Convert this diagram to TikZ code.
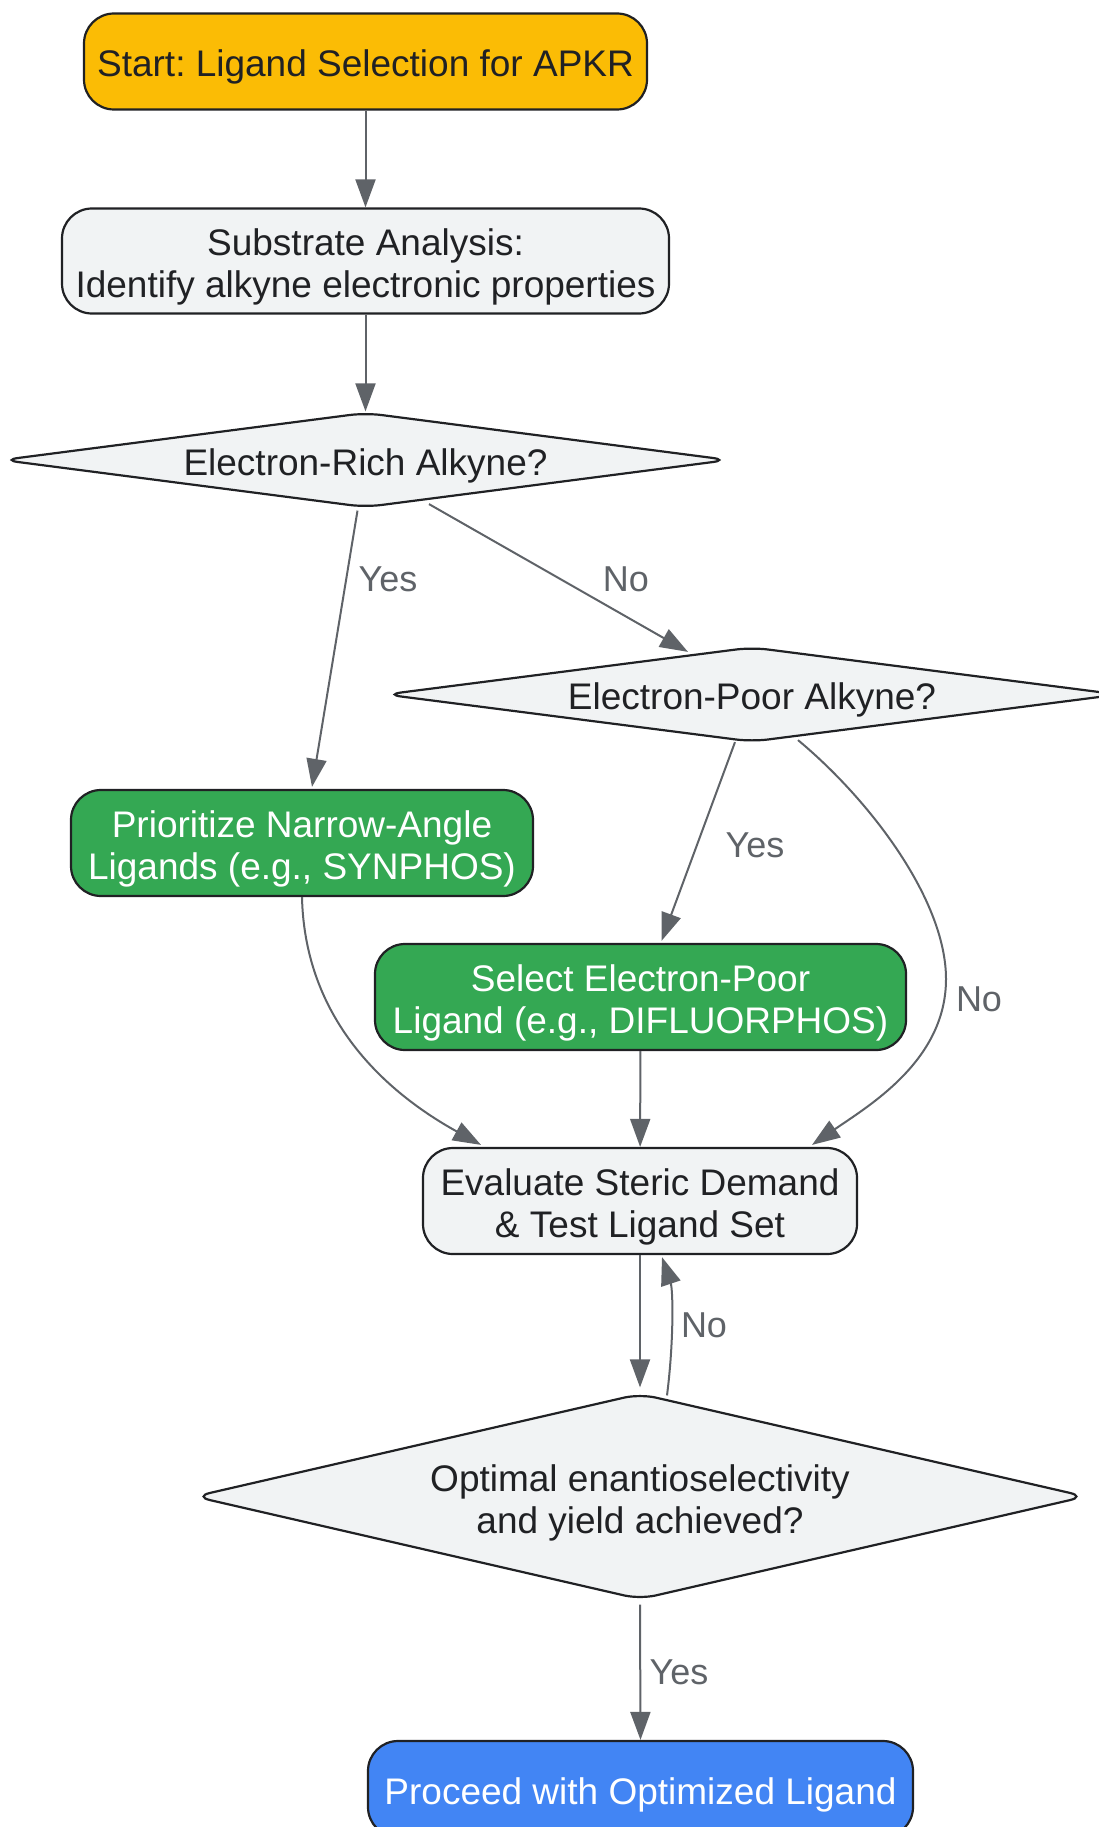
\documentclass[tikz,border=0pt]{standalone}
\usepackage{fontspec}
\setmainfont{Liberation Sans}
\usetikzlibrary{shapes.geometric,arrows.meta,calc}
\definecolor{cYellow}{HTML}{FBBC05}
\definecolor{cGray}{HTML}{F1F3F4}
\definecolor{cGreen}{HTML}{34A853}
\definecolor{cBlue}{HTML}{4285F4}
\definecolor{cBorder}{HTML}{202124}
\definecolor{cText}{HTML}{202124}
\definecolor{cEdge}{HTML}{5F6368}
\newcommand{\myStrut}{\rule[-4pt]{0pt}{42pt}}
\newcommand{\tS}{\rule{0pt}{39pt}}
\newcommand{\bS}{\rule[-8pt]{0pt}{8pt}}
\frenchspacing
\begin{document}
\begin{tikzpicture}[x=1pt,y=-1pt,
  box/.style={draw=cBorder, line width=2.2pt, rounded corners=30pt, align=center,
    font=\fontsize{37}{42}\selectfont, text=cText, inner sep=0pt,
    execute at begin node={\myStrut}, execute at end node={\myStrut}},
  two/.style={execute at begin node={}, execute at end node={}},
  dia/.style={diamond, draw=cBorder, line width=2.2pt, rounded corners=16pt, fill=cGray,
    align=center, inner sep=0pt, text=cText, font=\fontsize{37}{42}\selectfont,
    execute at begin node={\myStrut}, execute at end node={\myStrut}},
  edge/.style={draw=cEdge, line width=2pt, -{Triangle[length=28pt,width=20pt]}},
  lbl/.style={text=cEdge, font=\fontsize{36}{42}\selectfont, inner sep=0pt}
]
\useasboundingbox (0,0) rectangle (1099,1827);

\node[box, fill=cYellow, minimum width=563pt, minimum height=96pt] (start) at (365.5,61.5) {Start: Ligand Selection for APKR};
\node[box, two, fill=cGray, minimum width=607pt, minimum height=105pt] (sub) at (365.5,261) {\tS Substrate Analysis:\\Identify alkyne electronic properties\bS};
\node[dia, minimum width=727pt, minimum height=95pt, aspect=7.6] (d1) at (365.5,460) {Electron-Rich Alkyne?};
\node[dia, minimum width=734pt, minimum height=95pt, aspect=7.6] (d2) at (752,694.5) {Electron-Poor Alkyne?};
\node[box, two, fill=cGreen, text=white, minimum width=462pt, minimum height=106pt] (prio) at (302,843) {\tS Prioritize Narrow-Angle\\Ligands (e.g., SYNPHOS)\bS};
\node[box, two, fill=cGreen, text=white, minimum width=531pt, minimum height=106pt] (sel) at (640.5,997) {\tS Select Electron-Poor\\Ligand (e.g., DIFLUORPHOS)\bS};
\node[box, two, fill=cGray, minimum width=434pt, minimum height=106pt] (eval) at (640,1201) {\tS Evaluate Steric Demand\\\& Test Ligand Set\bS};
\node[dia, two, minimum width=892pt, minimum height=206pt, aspect=4.3] (d3) at (640,1496.5) {\tS Optimal enantioselectivity\\and yield achieved?\bS};
\node[box, fill=cBlue, text=white, minimum width=545pt, minimum height=96pt] (proc) at (640.5,1789) {Proceed with Optimized Ligand};

\draw[edge] (start) -- (sub);
\draw[edge] (sub) -- (d1);
\draw[edge] ($(d1.south)+(-8,2)$) -- ($(prio.north)+(10,-2)$);
\draw[edge] ($(d1.south)+(63.5,-4.5)$) -- ($(d2.north)+(-64,6)$);
\draw[edge] ($(d2.south)+(-17,-1)$) -- ($(sel.north)+(21,-2)$);
\coordinate (bulge) at (946,979);
\draw[edge] ($(d2.south)+(46,-3)$) .. controls (870,800) and (946,900) .. (bulge)
  .. controls (946,1060) and (870,1105) .. ($(eval.north)+(172,-2)$);
\draw[edge] (prio.south) .. controls (305,1030) and (400,1100) .. ($(eval.north)+(-159,-2)$);
\draw[edge] (sel) -- (eval);
\draw[edge] (eval.south) -- ($(d3.north)+(0,-5)$);
\draw[edge] ($(d3.north)+(27,3)$) .. controls (674,1340) and (673,1290) .. ($(eval.south)+(22,2)$);
\draw[edge] ($(d3.south)+(0,4)$) -- (proc.north);

\node[lbl] (l1) at (388,579) {Yes};
\node[lbl] (l2) at (626,579) {No};
\node[lbl] (l3) at (755,845) {Yes};
\node[lbl] (l4) at (979,999) {No};
\node[lbl] (l5) at (704,1325) {No};
\node[lbl] (l6) at (679,1672) {Yes};
\end{tikzpicture}
\end{document}
